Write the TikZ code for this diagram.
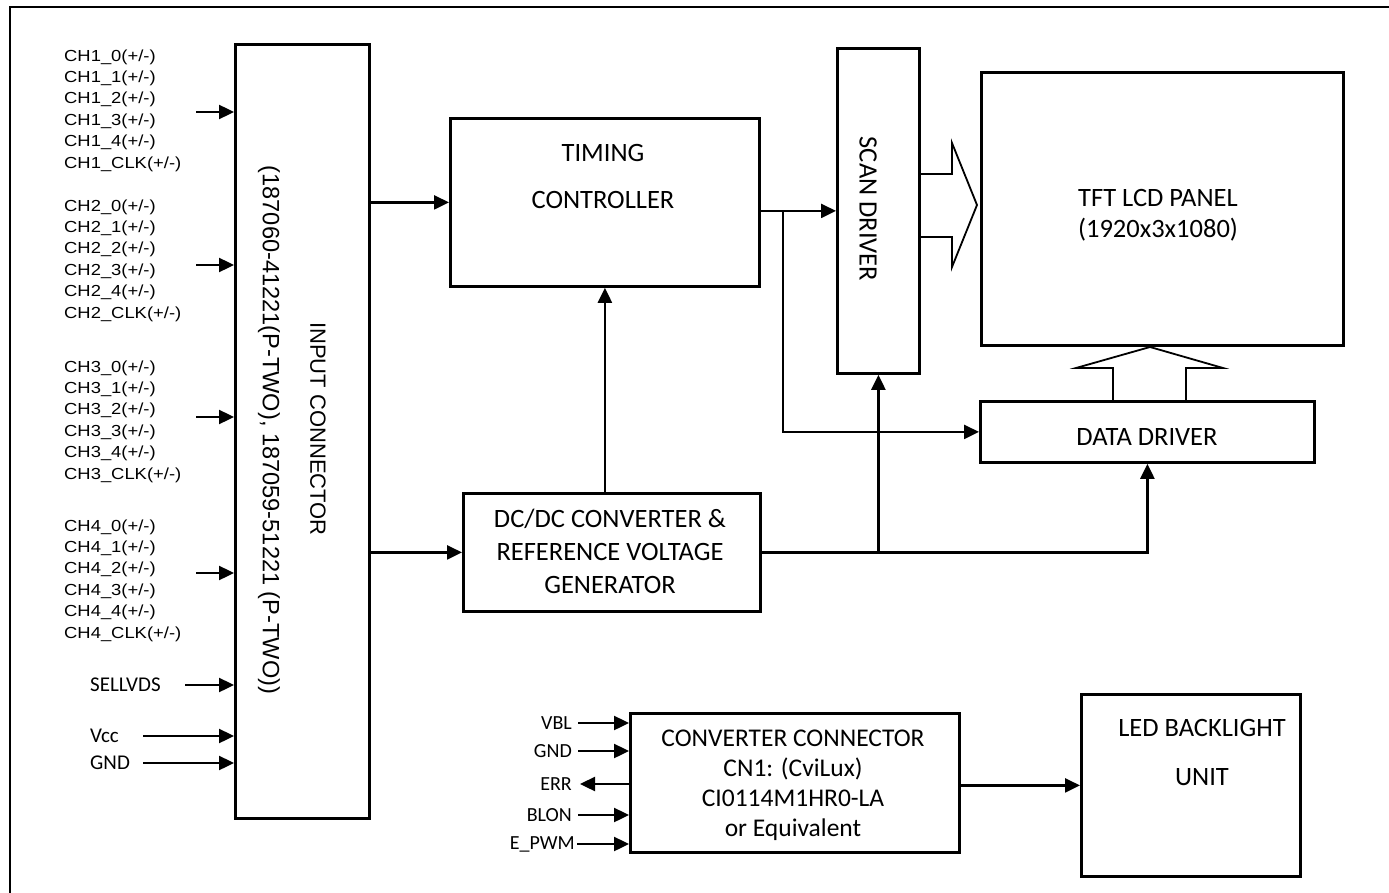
\documentclass[tikz,border=0pt]{standalone}
\usepackage{fontspec}
\setmainfont{Carlito}
\newfontfamily\arialw[FakeStretch=1.15]{Liberation Sans}
\newfontfamily\arialf{Liberation Sans}
\usetikzlibrary{arrows.meta,calc}
\begin{document}
\begin{tikzpicture}[x=1pt,y=-1pt,
  box/.style={draw,line width=2.8pt,minimum width=#1,inner sep=0pt,anchor=north west},
  arr/.style={line width=2.4pt,-{Triangle[length=15pt,width=14pt]}},
  big/.style={font=\fontsize{26.5}{31}\selectfont,inner sep=0pt,align=center},
  chl/.style={font=\arialw\fontsize{16}{18}\selectfont,anchor=west,inner sep=0pt},
  pin/.style={font=\fontsize{20}{22}\selectfont,anchor=east,inner sep=0pt},
  sel/.style={font=\fontsize{21}{22}\selectfont,anchor=west,inner sep=0pt},
  hollow/.style={line width=1.8pt,line join=miter}]
\useasboundingbox (0,0) rectangle (1389,893);
% frame
\draw[line width=2.8pt] (10,893) -- (10,7) -- (1389,7);

% boxes
\node[box=134pt,minimum height=774pt] (inp) at (234,43) {};
\node[box=309pt,minimum height=168pt] (tc) at (449,117) {};
\node[box=82pt,minimum height=325pt] (scan) at (836,47) {};
\node[box=362pt,minimum height=273pt] (panel) at (980,71) {};
\node[box=334pt,minimum height=61pt] (dd) at (979,400) {};
\node[box=297pt,minimum height=118pt] (dc) at (462,492) {};
\node[box=329pt,minimum height=139pt] (conv) at (629,712) {};
\node[box=219pt,minimum height=182pt] (led) at (1080,693) {};

% box texts
\node[rotate=-90,font=\arialf\fontsize{22}{26}\selectfont,inner sep=0pt] (inpt1) at (318,429) {INPUT CONNECTOR};
\node[rotate=-90,font=\arialf\fontsize{23.6}{27}\selectfont,inner sep=0pt] (inpt2) at (269,430) {(187060-41221(P-TWO), 187059-51221 (P-TWO))};
\node[big] (tct1) at (603,153) {TIMING};
\node[big] (tct2) at (603,200) {CONTROLLER};
\node[big,rotate=-90] (scant) at (868,209) {SCAN DRIVER};
\node[big] (pant1) at (1158,198) {TFT LCD PANEL};
\node[big] (pant2) at (1158,230) {(1920x3x1080)};
\node[big] (ddt) at (1147,437) {DATA DRIVER};
\node[big,font=\fontsize{26.5}{33}\selectfont] (dct) at (610,551) {DC/DC CONVERTER \&\\REFERENCE VOLTAGE\\GENERATOR};
\node[big,font=\fontsize{25.5}{30}\selectfont] (convt) at (793,785) {CONVERTER CONNECTOR\\CN1: (CviLux)\\CI0114M1HR0-LA\\or Equivalent};
\node[big] (ledt1) at (1202,728) {LED BACKLIGHT};
\node[big] (ledt2) at (1202,777) {UNIT};

% channel labels
\foreach \g/\y in {1/57,2/207,3/368,4/527}{
  \foreach \k/\s in {0/0,1/1,2/2,3/3,4/4,5/CLK}{
    \node[chl] (ch\g\k) at (64,\y+21.4*\k) {CH\g\_\s(+/-)};
  }
}
\foreach \g/\y in {1/112,2/265,3/417,4/573}{
  \coordinate (ca\g) at (196,\y);
  \draw[arr] (ca\g) -- (ca\g -| inp.west);
}
\node[sel] (sell) at (90,685) {SELLVDS};
\coordinate (sella) at (185,685);
\draw[arr] (sella) -- (sella -| inp.west);
\node[sel] (vcc) at (90,736) {Vcc};
\coordinate (vcca) at (143,736);
\draw[arr] (vcca) -- (vcca -| inp.west);
\node[sel] (gnd) at (90,763) {GND};
\coordinate (gnda) at (143,763);
\draw[arr] (gnda) -- (gnda -| inp.west);

% main connectors
\draw[arr] (inp.east |- tc.west) -- (tc.west);
\draw[arr] (inp.east |- dc.west) -- (dc.west);
\draw[arr] (dc.north -| tc.south) -- (tc.south);
\draw[arr] (tc.east |- scan.west) -- (scan.west);
\coordinate (br) at (783,0);
\draw[arr] (br |- scan.west) |- (dd.west);
\draw[arr] (dc.east) -| (dd.south);
\draw[arr] (dc.east -| scan.south) -- (scan.south);
\draw[arr] (conv.east |- led.west) -- (led.west);

% hollow arrows
\draw[hollow] (918,174) -- (952,174) -- (952,143) -- (977,205) -- (952,267) -- (952,237) -- (918,237);
\draw[hollow] (1113,400) -- (1113,368) -- (1076,368) -- (1150,347) -- (1223,368) -- (1186,368) -- (1186,400);

% converter pins
\node[pin] (vbl) at (572,723) {VBL};
\node[pin] (gnd2) at (572,751) {GND};
\node[pin] (err) at (572,784) {ERR};
\node[pin] (blon) at (572,815) {BLON};
\node[pin] (epwm) at (575,844) {E\_PWM};
\coordinate (p1) at (578,723);
\coordinate (p2) at (578,751);
\coordinate (p3) at (580,784);
\coordinate (p4) at (578,815);
\coordinate (p5) at (577,844);
\draw[arr] (p1) -- (p1 -| conv.west);
\draw[arr] (p2) -- (p2 -| conv.west);
\draw[arr] (p3 -| conv.west) -- (p3);
\draw[arr] (p4) -- (p4 -| conv.west);
\draw[arr] (p5) -- (p5 -| conv.west);
\end{tikzpicture}
\end{document}
